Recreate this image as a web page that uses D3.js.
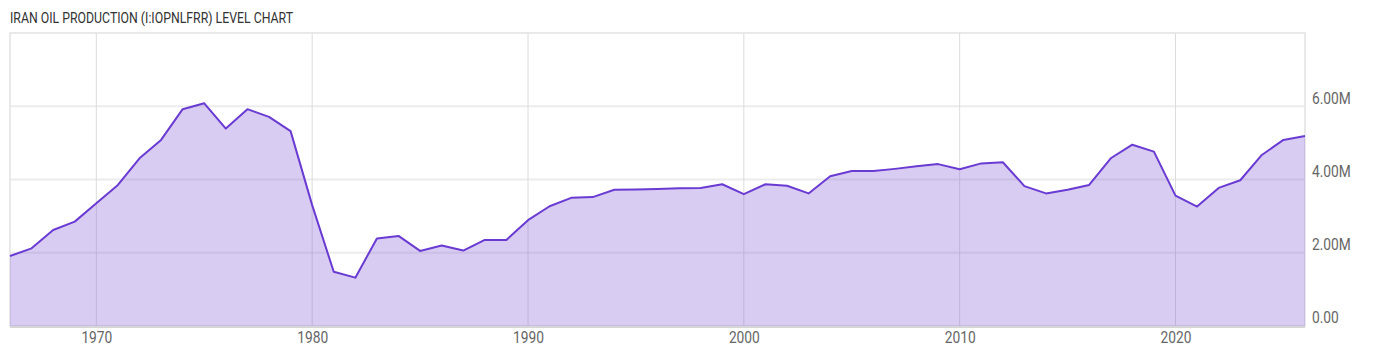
<!DOCTYPE html>
<html>
<head>
<meta charset="utf-8">
<script src="https://cdn.jsdelivr.net/npm/d3@7"></script>
<style>
  body { margin: 0; background: #fff; }
  svg { display: block; font-family: Roboto, "Noto Sans", sans-serif; }
</style>
</head>
<body>
<div id="chart"></div>
<script>
// yearly values, million barrels per day
const years = d3.range(1966, 2027);
const production = [
    1.91, 2.12, 2.62, 2.85, 3.35, 3.85, 4.58, 5.08, 5.92, 6.08,
    5.39, 5.92, 5.71, 5.32, 3.30, 1.48, 1.32, 2.39, 2.46, 2.05,
    2.20, 2.06, 2.35, 2.35, 2.89, 3.27, 3.50, 3.52, 3.72, 3.73,
    3.74, 3.76, 3.77, 3.87, 3.60, 3.87, 3.83, 3.62, 4.09, 4.23,
    4.23, 4.29, 4.36, 4.42, 4.28, 4.44, 4.47, 3.82, 3.62, 3.72,
    3.85, 4.58, 4.95, 4.76, 3.56, 3.26, 3.77, 3.98, 4.67, 5.08,
    5.19
];
const xTicks = [1970, 1980, 1990, 2000, 2010, 2020];
const yTicks = [0, 2, 4, 6];
const titleText = "IRAN OIL PRODUCTION (I:IOPNLFRR) LEVEL CHART";

const width = 1400, height = 357;
const margin = {top: 33, right: 95, bottom: 31, left: 10};

const data = years.map((y, i) => ({year: y, value: production[i]}));

const x = d3.scaleLinear()
    .domain([1966, 2026])
    .range([margin.left, width - margin.right]);
const y = d3.scaleLinear()
    .domain([0, 8])
    .range([height - margin.bottom, margin.top]);

const svg = d3.select("#chart").append("svg")
    .attr("width", width)
    .attr("height", height);

// squeeze text to look like a condensed face
function condense(sel, k) {
    sel.each(function () {
        const w = this.getComputedTextLength();
        d3.select(this).attr("textLength", w * k).attr("lengthAdjust", "spacingAndGlyphs");
    });
}

svg.append("text")
    .attr("x", 10)
    .attr("y", 23)
    .attr("fill", "#333")
    .attr("font-size", 15)
    .attr("textLength", 283)
    .attr("lengthAdjust", "spacingAndGlyphs")
    .text(titleText);

// grid
svg.append("g")
    .selectAll("line")
    .data(yTicks.filter(d => d > 0))
    .join("line")
    .attr("x1", margin.left)
    .attr("x2", width - margin.right)
    .attr("y1", d => y(d))
    .attr("y2", d => y(d))
    .attr("stroke", "#ececec")
    .attr("stroke-width", 2);

svg.append("g")
    .selectAll("line")
    .data(xTicks)
    .join("line")
    .attr("x1", d => x(d))
    .attr("x2", d => x(d))
    .attr("y1", margin.top)
    .attr("y2", height - margin.bottom)
    .attr("stroke", "#dcdcdc")
    .attr("stroke-width", 1);

// frame
svg.append("rect")
    .attr("x", margin.left)
    .attr("y", margin.top)
    .attr("width", width - margin.left - margin.right)
    .attr("height", height - margin.top - margin.bottom)
    .attr("fill", "none")
    .attr("stroke", "#e2e2e2")
    .attr("stroke-width", 1.5);

const area = d3.area()
    .x(d => x(d.year))
    .y0(y(0))
    .y1(d => y(d.value));

const line = d3.line()
    .x(d => x(d.year))
    .y(d => y(d.value));

svg.append("path")
    .datum(data)
    .attr("d", area)
    .attr("fill", "#7e57d6")
    .attr("fill-opacity", 0.3);

svg.append("path")
    .datum(data)
    .attr("d", line)
    .attr("fill", "none")
    .attr("stroke", "#6a3bd2")
    .attr("stroke-width", 2)
    .attr("stroke-linejoin", "round");

svg.append("line")
    .attr("x1", margin.left)
    .attr("x2", width - margin.right)
    .attr("y1", y(0) + 1)
    .attr("y2", y(0) + 1)
    .attr("stroke", "#d6d6d6")
    .attr("stroke-width", 2);

// axes
const xAxis = d3.axisBottom(x).tickValues(xTicks).tickFormat(d3.format("d")).tickSize(0).tickPadding(6);
svg.append("g")
    .attr("transform", `translate(0,${height - margin.bottom})`)
    .call(xAxis)
    .call(g => g.select(".domain").remove())
    .call(g => g.selectAll("text")
        .attr("fill", "#666")
        .attr("font-size", 16)
        .attr("font-family", "Roboto, sans-serif")
        .call(condense, 0.86));

const yAxis = d3.axisRight(y).tickValues(yTicks)
    .tickFormat(d => d === 0 ? "0.00" : d3.format(".2f")(d) + "M")
    .tickSize(0).tickPadding(7);
svg.append("g")
    .attr("transform", `translate(${width - margin.right},0)`)
    .call(yAxis)
    .call(g => g.select(".domain").remove())
    .call(g => g.selectAll("text")
        .attr("fill", "#666")
        .attr("font-size", 16)
        .attr("dy", "-0.2em")
        .attr("font-family", "Roboto, sans-serif")
        .call(condense, 0.86));
</script>
</body>
</html>
